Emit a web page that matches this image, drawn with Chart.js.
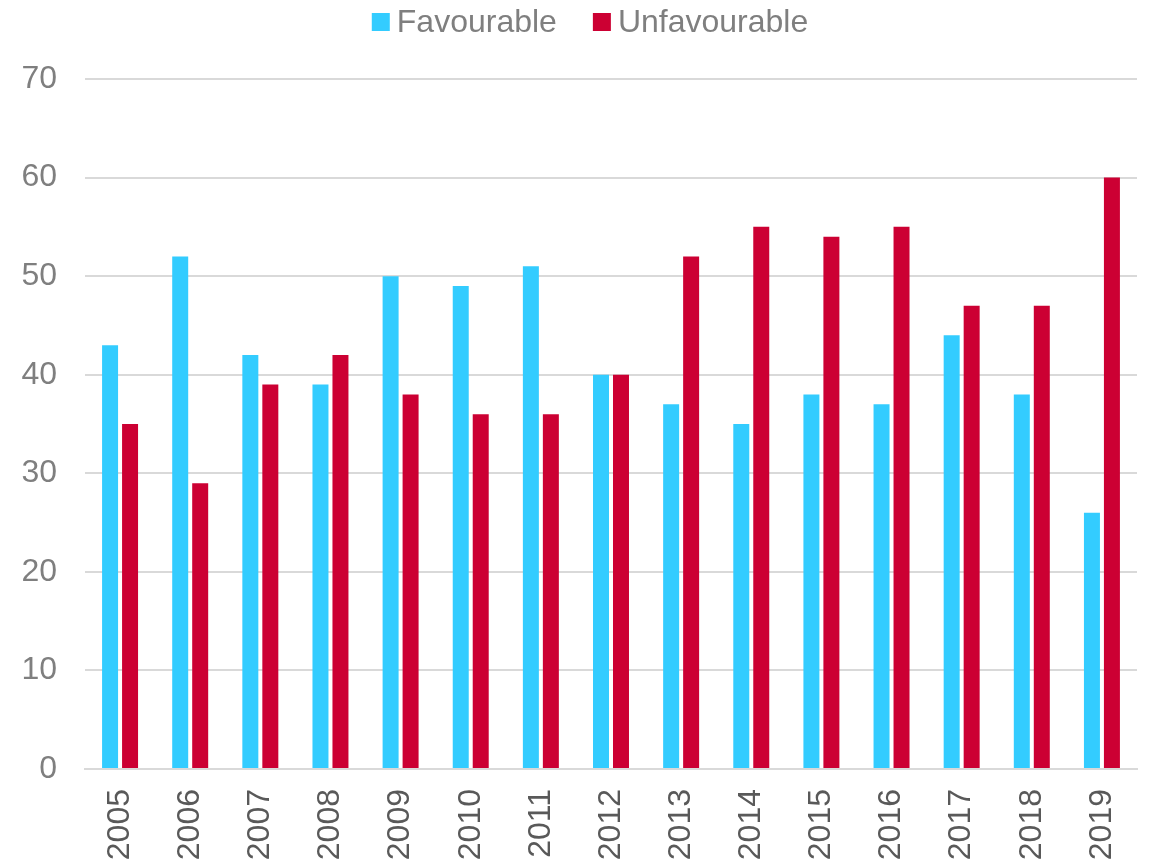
<!DOCTYPE html>
<html>
<head>
<meta charset="utf-8">
<script src="https://cdn.jsdelivr.net/npm/chart.js@4/dist/chart.umd.min.js"></script>
<style>
  html, body { margin: 0; padding: 0; background: #ffffff; }
  #wrap { width: 1152px; height: 865px; position: relative; }
</style>
</head>
<body>
<div id="wrap"><canvas id="c" width="1152" height="865"></canvas></div>
<script>
const years = ['2005','2006','2007','2008','2009','2010','2011','2012','2013','2014','2015','2016','2017','2018','2019'];
const favourable = [43, 52, 42, 39, 50, 49, 51, 40, 37, 35, 38, 37, 44, 38, 26];
const unfavourable = [35, 29, 39, 42, 38, 36, 36, 40, 52, 55, 54, 55, 47, 47, 60];
const yTicks = [0, 10, 20, 30, 40, 50, 60, 70];

const FONT = "'Liberation Sans', Arial, sans-serif";

// Legend row across the top: square swatch, then the series name.
const topLegend = {
  id: 'topLegend',
  afterDraw(chart) {
    const ctx = chart.ctx;
    const box = 18, textGap = 7, itemGap = 36;
    ctx.save();
    ctx.font = '32px ' + FONT;
    ctx.textBaseline = 'middle';
    const items = chart.data.datasets.map(ds => ({
      text: ds.label, color: ds.backgroundColor, w: ctx.measureText(ds.label).width
    }));
    const total = items.reduce((s, it) => s + box + textGap + it.w, 0) + itemGap * (items.length - 1);
    let x = 590 - total / 2;
    const cy = 22;
    items.forEach(it => {
      ctx.fillStyle = it.color;
      ctx.fillRect(x, cy - box / 2, box, box);
      x += box + textGap;
      ctx.fillStyle = '#7F7F7F';
      ctx.fillText(it.text, x, cy + 1);
      x += it.w + itemGap;
    });
    ctx.restore();
  }
};

new Chart(document.getElementById('c'), {
  type: 'bar',
  data: {
    labels: years,
    datasets: [
      { label: 'Favourable', data: favourable, backgroundColor: '#33CCFF', borderWidth: 0 },
      { label: 'Unfavourable', data: unfavourable, backgroundColor: '#CC0033', borderWidth: 0 }
    ]
  },
  plugins: [topLegend],
  options: {
    responsive: false,
    animation: false,
    devicePixelRatio: 1,
    categoryPercentage: 0.57,
    barPercentage: 0.8,
    layout: { padding: { left: 0, right: 15, top: 79, bottom: 0 } },
    plugins: {
      tooltip: { enabled: false },
      legend: { display: false }
    },
    scales: {
      x: {
        grid: { display: false, drawTicks: false },
        border: { display: true, color: '#D9D9D9', width: 2 },
        ticks: {
          font: { family: FONT, size: 32 },
          color: '#595959',
          minRotation: 90,
          maxRotation: 90,
          padding: 20
        },
        afterFit(axis) { axis.height = 96; axis.paddingLeft = 0; axis.paddingRight = 0; }
      },
      y: {
        min: 0,
        max: 70,
        afterBuildTicks(axis) { axis.ticks = yTicks.map(v => ({ value: v })); },
        grid: { color: '#D9D9D9', lineWidth: 2, drawTicks: false },
        border: { display: false },
        ticks: {
          font: { family: FONT, size: 32 },
          color: '#7F7F7F',
          padding: 28
        },
        afterFit(axis) { axis.width = 85; axis.paddingTop = 0; axis.paddingBottom = 0; }
      }
    }
  }
});
</script>
</body>
</html>
